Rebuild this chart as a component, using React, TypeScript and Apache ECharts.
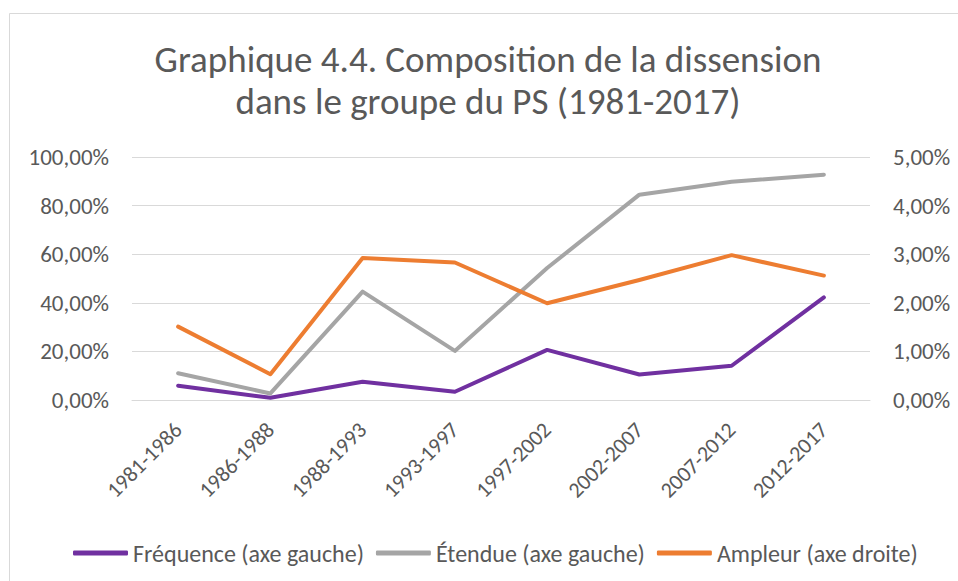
import React, { useEffect, useRef } from "react";
import * as echarts from "echarts";

const categories = ["1981-1986", "1986-1988", "1988-1993", "1993-1997", "1997-2002", "2002-2007", "2007-2012", "2012-2017"];
const frequence = [5.9, 0.9, 7.5, 3.4, 20.6, 10.5, 14.1, 42.2];
const etendue = [11.0, 2.7, 44.6, 20.2, 54.3, 84.5, 89.8, 92.7];
const ampleur = [1.51, 0.53, 2.92, 2.83, 1.99, 2.47, 2.98, 2.56];
const titleLines = ["Graphique 4.4. Composition de la dissension", "dans le groupe du PS (1981-2017)"];
const seriesNames = ["Fréquence (axe gauche)", "Étendue (axe gauche)", "Ampleur (axe droite)"];

const FONT = "Carlito, Lato, sans-serif";
const TXT = "#595959";
const fmt = (v: number) => v.toFixed(2).replace(".", ",") + "%";

export default function App() {
  const ref = useRef<HTMLDivElement>(null);
  useEffect(() => {
    if (!ref.current) return;
    const chart = echarts.init(ref.current, undefined, { renderer: "svg" });
    const lineSeries = (name: string, data: number[], color: string, yAxisIndex: number) => ({
      name,
      type: "line",
      data,
      yAxisIndex,
      symbol: "none",
      smooth: false,
      lineStyle: { width: 4, color, cap: "round", join: "round" },
      itemStyle: { color },
      z: yAxisIndex === 1 ? 3 : 2,
    });
    chart.setOption({
      animation: false,
      backgroundColor: "#ffffff",
      textStyle: { fontFamily: FONT },
      graphic: [
        {
          type: "rect",
          shape: { x: 9.5, y: 13.5, width: 1000, height: 1000 },
          style: { fill: "none", stroke: "#D9D9D9", lineWidth: 1 },
          silent: true,
        },
        ...titleLines.map((t, i) => ({
          type: "text",
          x: 488,
          y: 59 + i * 42,
          style: {
            text: t,
            fill: TXT,
            font: `37px ${FONT}`,
            textAlign: "center",
            textVerticalAlign: "middle",
          },
        })),
      ],
      grid: { left: 132, right: 88, top: 157, bottom: 181, containLabel: false },
      xAxis: {
        type: "category",
        data: categories,
        boundaryGap: true,
        axisLine: { show: true, lineStyle: { color: "#D9D9D9", width: 1 } },
        axisTick: { show: false },
        axisLabel: { rotate: 45, color: TXT, fontSize: 22, fontFamily: FONT, margin: 26, interval: 0 },
      },
      yAxis: [
        {
          type: "value",
          min: 0,
          max: 100,
          interval: 20,
          axisLine: { show: false },
          axisTick: { show: false },
          splitLine: { lineStyle: { color: "#D9D9D9", width: 1 } },
          axisLabel: { color: TXT, fontSize: 23, fontFamily: FONT, margin: 23, formatter: fmt },
        },
        {
          type: "value",
          min: 0,
          max: 5,
          interval: 1,
          position: "right",
          axisLine: { show: false },
          axisTick: { show: false },
          splitLine: { show: false },
          axisLabel: { color: TXT, fontSize: 23, fontFamily: FONT, margin: 23, formatter: fmt },
        },
      ],
      legend: {
        left: 68,
        top: 536,
        icon: "roundRect",
        itemWidth: 55,
        itemHeight: 5,
        itemGap: 12,
        textStyle: { color: TXT, fontSize: 24, fontFamily: FONT },
        data: seriesNames,
      },
      series: [
        lineSeries(seriesNames[0], frequence, "#7030A0", 0),
        lineSeries(seriesNames[1], etendue, "#A5A5A5", 0),
        lineSeries(seriesNames[2], ampleur, "#ED7D31", 1),
      ],
    });
    return () => chart.dispose();
  }, []);
  return <div ref={ref} style={{ position: "fixed", left: 0, top: 0, width: 958, height: 581 }} />;
}
